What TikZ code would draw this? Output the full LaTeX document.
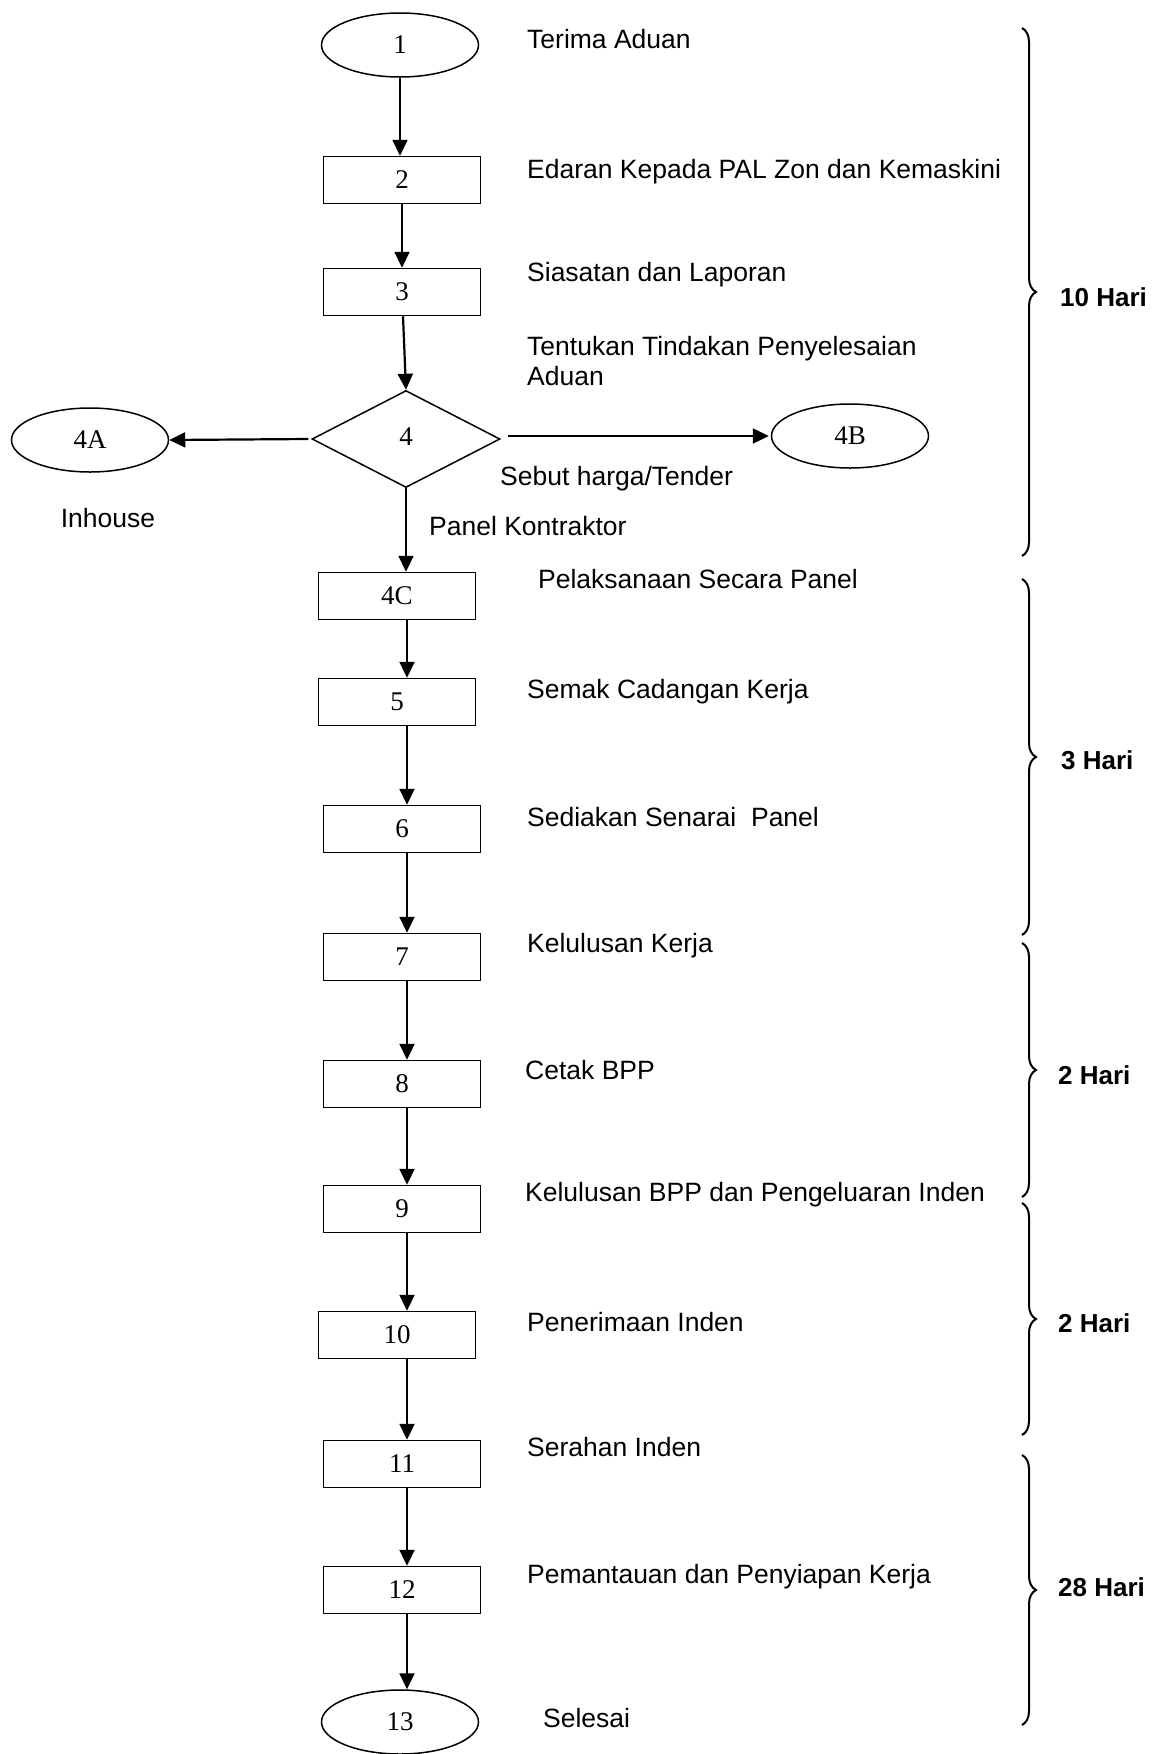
\documentclass[tikz,border=0pt]{standalone}
\usepackage{fontspec}
\setmainfont{Liberation Sans}
\newfontfamily\numfont{Liberation Serif}
\usetikzlibrary{shapes.geometric,arrows.meta,decorations.pathreplacing}
\begin{document}
\begin{tikzpicture}[x=1pt,y=-1pt,
  box/.style={draw, line width=1.5pt, minimum width=157pt, minimum height=47pt, inner sep=0pt, font=\numfont\fontsize{27}{30}\selectfont},
  oval/.style={draw, ellipse, line width=1.5pt, minimum width=157pt, minimum height=64pt, inner sep=0pt, font=\numfont\fontsize{27}{30}\selectfont},
  dia/.style={draw, diamond, line width=1.5pt, minimum width=188pt, minimum height=97pt, inner sep=0pt, font=\numfont\fontsize{27}{30}\selectfont},
  lbl/.style={anchor=west, inner sep=0pt, text height=19pt, text depth=0pt, font=\fontsize{26.5}{30}\selectfont},
  hari/.style={anchor=west, inner sep=0pt, text height=19pt, text depth=0pt, font=\bfseries\fontsize{26}{30}\selectfont},
  arr/.style={-{Triangle[length=16pt,width=15pt]}, line width=2.2pt},
  brc/.style={decorate, decoration={brace, amplitude=14pt}, line width=2pt}]
\useasboundingbox (0,0) rectangle (1165,1754);
\fill[white] (0,0) rectangle (1165,1754);

% nodes
\node[oval] (n1) at (400,45) {1};
\node[box] (n2) at (402,180) {2};
\node[box] (n3) at (402,292) {3};
\node[dia] (n4) at (406,439) {\raisebox{4pt}{4}};
\node[oval] (n4a) at (90,440) {4A};
\node[oval] (n4b) at (850,436) {4B};
\node[box] (n4c) at (397,596) {4C};
\node[box] (n5) at (397,702) {5};
\node[box] (n6) at (402,829) {6};
\node[box] (n7) at (402,957) {7};
\node[box] (n8) at (402,1084) {8};
\node[box] (n9) at (402,1209) {9};
\node[box] (n10) at (397,1335) {10};
\node[box] (n11) at (402,1464) {11};
\node[box] (n12) at (402,1590) {12};
\node[oval] (n13) at (400,1722) {13};

\coordinate (ax) at (407,0);

% connectors
\draw[arr] (n1.south) -- (n1.south |- n2.north);
\draw[arr] (n2.south) -- (n3.north);
\draw[arr] ([xshift=1pt]n3.south) -- (n4.north);
\path ([xshift=-3pt]n4.west) coordinate (w4);
\draw[arr] (w4) -- (n4a.east);
\path ([xshift=7pt]n4.east) coordinate (e4);
\draw[arr] (e4 |- n4b.west) -- ([xshift=-2pt]n4b.west);
\draw[arr] (n4.south) -- (n4.south |- n4c.north);
\draw[arr] (n4c.south -| ax) -- (n5.north -| ax);
\draw[arr] (n5.south -| ax) -- (n6.north -| ax);
\draw[arr] (n6.south -| ax) -- (n7.north -| ax);
\draw[arr] (n7.south -| ax) -- (n8.north -| ax);
\draw[arr] (n8.south -| ax) -- (n9.north -| ax);
\draw[arr] (n9.south -| ax) -- (n10.north -| ax);
\draw[arr] (n10.south -| ax) -- (n11.north -| ax);
\draw[arr] (n11.south -| ax) -- (n12.north -| ax);
\draw[arr] (n12.south -| ax) -- (n13.north -| ax);

% labels
\node[lbl] (t1) at (527,39) {Terima Aduan};
\node[lbl] (t2) at (527,169) {Edaran Kepada PAL Zon dan Kemaskini};
\node[lbl] (t3) at (527,272) {Siasatan dan Laporan};
\node[anchor=north west, inner sep=0pt, align=left, font=\fontsize{26.5}{30}\selectfont] (t4) at (527,336) {Tentukan Tindakan Penyelesaian\\Aduan};
\node[lbl, anchor=center] (t4a) at (108,518) {Inhouse};
\node[lbl] (t4b) at (500,476) {Sebut harga/Tender};
\node[lbl] (t4p) at (429,526) {Panel Kontraktor};
\node[lbl] (t4c) at (538,579) {Pelaksanaan Secara Panel};
\node[lbl] (t5) at (527,689) {Semak Cadangan Kerja};
\node[lbl] (t6) at (527,817) {Sediakan Senarai\ \ Panel};
\node[lbl] (t7) at (527,943) {Kelulusan Kerja};
\node[lbl] (t8) at (525,1070) {Cetak BPP};
\node[lbl] (t9) at (525,1192) {Kelulusan BPP dan Pengeluaran Inden};
\node[lbl] (t10) at (527,1322) {Penerimaan Inden};
\node[lbl] (t11) at (527,1447) {Serahan Inden};
\node[lbl] (t12) at (527,1574) {Pemantauan dan Penyiapan Kerja};
\node[lbl] (t13) at (543,1718) {Selesai};

% braces
\coordinate (b1a) at (1022,28);   \coordinate (b1b) at (1022,556);
\coordinate (b2a) at (1022,579);  \coordinate (b2b) at (1022,935);
\coordinate (b3a) at (1022,943);  \coordinate (b3b) at (1022,1197);
\coordinate (b4a) at (1022,1203); \coordinate (b4b) at (1022,1435);
\coordinate (b5a) at (1022,1455); \coordinate (b5b) at (1022,1725);
\draw[brc] (b1a) -- (b1b);
\draw[brc] (b2a) -- (b2b);
\draw[brc] (b3a) -- (b3b);
\draw[brc] (b4a) -- (b4b);
\draw[brc] (b5a) -- (b5b);
\node[hari] (h1) at (1060,297) {10 Hari};
\node[hari] (h2) at (1061,760) {3 Hari};
\node[hari] (h3) at (1058,1075) {2 Hari};
\node[hari] (h4) at (1058,1323) {2 Hari};
\node[hari] (h5) at (1058,1587) {28 Hari};
\end{tikzpicture}
\end{document}
